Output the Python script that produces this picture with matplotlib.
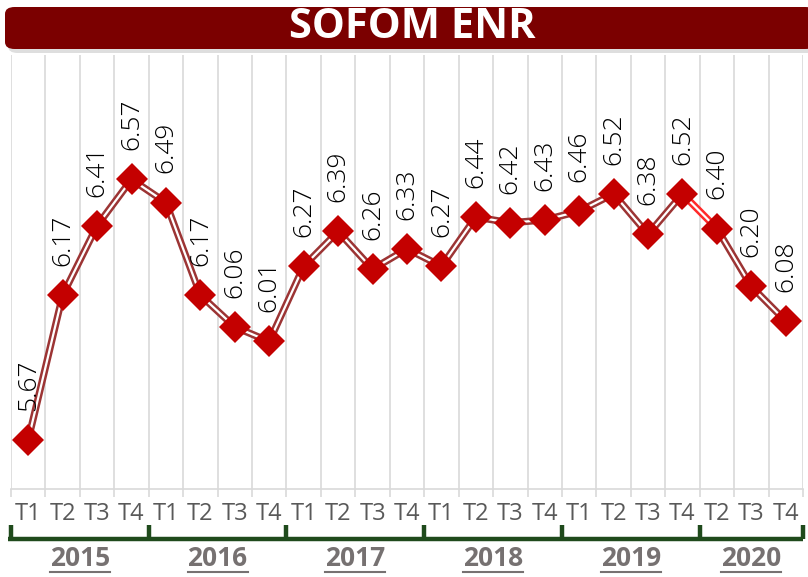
import matplotlib
matplotlib.use("Agg")
from matplotlib import pyplot as plt
from matplotlib.patches import FancyBboxPatch
import matplotlib.transforms as mtransforms
import numpy as np

titulo = "SOFOM ENR"
trimestres = ["T1", "T2", "T3", "T4"] * 5 + ["T2", "T3", "T4"]
valores = [5.67, 6.17, 6.41, 6.57, 6.49, 6.17, 6.06, 6.01, 6.27, 6.39, 6.26, 6.33,
           6.27, 6.44, 6.42, 6.43, 6.46, 6.52, 6.38, 6.52, 6.40, 6.20, 6.08]
anios = ["2015", "2016", "2017", "2018", "2019", "2020"]
trim_por_anio = [4, 4, 4, 4, 4, 3]

fig = plt.figure(figsize=(8.08, 5.77), dpi=100)
fig.patch.set_facecolor("white")

# barra del titulo
sombra = FancyBboxPatch((8 / 808, 1 - 53 / 577), 810 / 808, 42 / 577,
                        boxstyle="round,pad=0,rounding_size=0.012",
                        transform=fig.transFigure, facecolor="#c8c8c8",
                        edgecolor="none", alpha=0.6)
barra = FancyBboxPatch((5 / 808, 1 - 49 / 577), 810 / 808, 42 / 577,
                       boxstyle="round,pad=0,rounding_size=0.012",
                       transform=fig.transFigure, facecolor="#7b0000",
                       edgecolor="none")
fig.patches.append(sombra)
fig.patches.append(barra)
fig.text(412 / 808, 1 - 28 / 577, titulo, color="white", fontsize=30,
         fontweight="bold", family="Open Sans", ha="center", va="center")

ax = fig.add_axes([11 / 808, 88 / 577, 792 / 808, 434 / 577])
x = np.arange(len(valores))

# linea doble
ax.plot(x[:20], valores[:20], color="#9c3434", lw=5.2, solid_capstyle="butt", zorder=2)
ax.plot(x[19:21], valores[19:21], color="#ff2a2a", lw=5.2, zorder=2)
ax.plot(x[20:], valores[20:], color="#9c3434", lw=5.2, zorder=2)
ax.plot(x, valores, color="white", lw=1.6, zorder=3)
ax.plot(x, valores, linestyle="none", marker="D", markersize=16.5,
        color="#c40000", markeredgewidth=0, zorder=4)

for xi, v in zip(x, valores):
    ax.annotate(f"{v:.2f}", (xi, v), xytext=(0, 21), textcoords="offset points",
                rotation=90, ha="center", va="bottom", fontsize=19,
                family="Open Sans", fontweight="light", color="black", zorder=5)

ax.set_xlim(-0.5, len(valores) - 0.5)
ax.set_ylim(5.5, 7.0)
ax.set_yticks([])
ax.set_xticks(x)
ax.set_xticklabels(trimestres, fontsize=17, color="#595959", family="Open Sans")
ax.tick_params(axis="x", which="major", length=0, pad=9)
ax.set_xticks(np.arange(-0.5, len(valores), 1), minor=True)
ax.tick_params(axis="x", which="minor", length=6, color="#d9d9d9", width=1.2)
ax.grid(axis="x", which="minor", color="#d9d9d9", lw=1.2)
for s in ["top", "left", "right"]:
    ax.spines[s].set_visible(False)
ax.spines["bottom"].set_color("#d9d9d9")
ax.spines["bottom"].set_linewidth(1.2)

# corchetes de los anios
trans = mtransforms.blended_transform_factory(ax.transData, fig.transFigure)
verde = "#1f4a1c"
inicio = -0.5
y_linea = 1 - 539 / 577
y_alto = 1 - 525 / 577
bordes = [inicio]
for n in trim_por_anio:
    bordes.append(bordes[-1] + n)
ax.plot([bordes[0] - 0.1, bordes[-1]], [y_linea, y_linea], color=verde, lw=3.2,
        transform=trans, clip_on=False, solid_capstyle="butt")
for b in bordes:
    ax.plot([b, b], [y_linea, y_alto], color=verde, lw=3.2, transform=trans,
            clip_on=False, solid_capstyle="butt")

textos = []
for i, anio in enumerate(anios):
    c = (bordes[i] + bordes[i + 1]) / 2
    t = ax.text(c, 1 - 559 / 577, anio, transform=trans, ha="center", va="center",
                fontsize=19, fontweight="bold", family="Open Sans", color="#767171")
    textos.append(t)

fig.canvas.draw()
r = fig.canvas.get_renderer()
for t in textos:
    bb = t.get_window_extent(r)
    y_sub = (bb.y0 + 1) / fig.bbox.height
    fig.add_artist(plt.Line2D([bb.x0 / fig.bbox.width, bb.x1 / fig.bbox.width],
                              [y_sub, y_sub], color="#767171", lw=1.5,
                              transform=fig.transFigure))

fig.savefig("out.png", dpi=100)
